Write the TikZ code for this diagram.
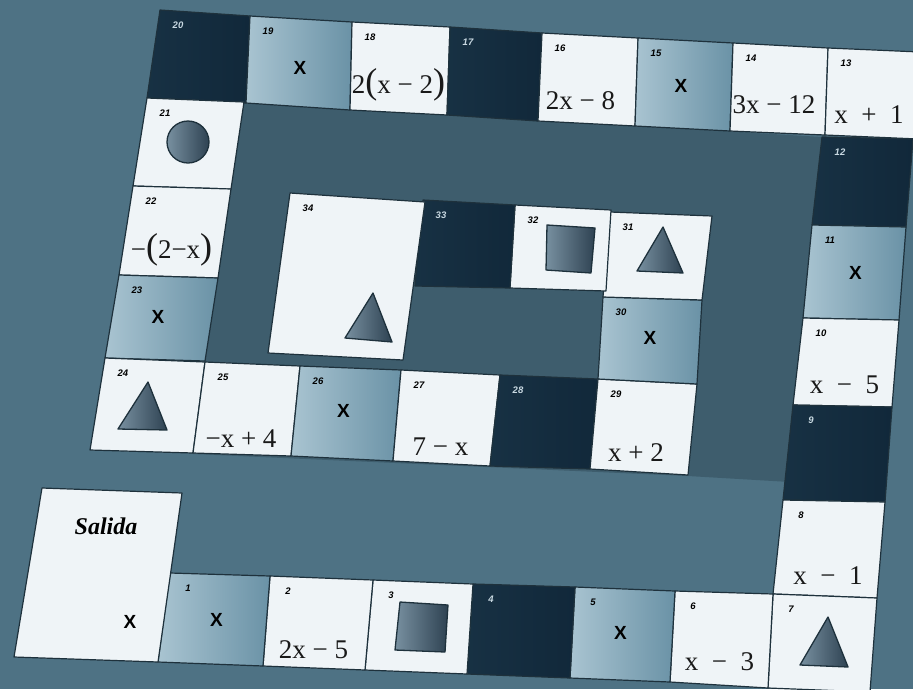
\documentclass[tikz,border=0pt]{standalone}
\usepackage{fontspec}
\setmainfont{Liberation Serif}
\setsansfont{Liberation Sans}
\usetikzlibrary{calc}
\definecolor{felt}{HTML}{4E7284}
\definecolor{plate}{HTML}{3E5D6D}
\definecolor{edge}{HTML}{1E313C}
\definecolor{paper}{HTML}{EFF4F7}
\definecolor{navy}{HTML}{11283A}
\definecolor{navymid}{HTML}{3B6479}
\definecolor{steel}{HTML}{6A92A6}
\definecolor{steellight}{HTML}{A9C4D1}
\definecolor{slate}{HTML}{2E4252}
\definecolor{slatelight}{HTML}{7890A0}
\definecolor{numlight}{HTML}{C9D9E2}

% one square of the track: style, number, corners tl tr br bl
\newcommand{\boardtile}[6]{%
  \coordinate (t#2a) at (#3);
  \coordinate (t#2b) at (#4);
  \coordinate (t#2c) at (#5);
  \coordinate (t#2d) at (#6);
  \path[tile, #1] (t#2a) -- (t#2b) -- (t#2c) -- (t#2d) -- cycle;
  \coordinate (t#2) at ($(t#2a)!0.5!(t#2c)$);
  \node[num, num #1] (n#2) at ($(t#2a)+(18,15)$) {#2};
}
\newcommand{\openp}{{\fontsize{36}{36}\selectfont(}}
\newcommand{\closep}{{\fontsize{36}{36}\selectfont)}}

\begin{document}
\begin{tikzpicture}[x=1pt, y=-1pt,
  tile/.style={draw=edge, line width=1.2pt, line join=round},
  plain/.style={fill=paper},
  tint/.style={left color=steellight, middle color=steel!70!steellight, right color=steel},
  deep/.style={left color=navy!85!navymid, middle color=navymid, right color=navy},
  num/.style={font=\fontsize{9.5}{10}\selectfont\sffamily\bfseries\itshape, inner sep=0pt},
  num plain/.style={text=black},
  num tint/.style={text=black},
  num deep/.style={text=numlight},
  expr/.style={font=\fontsize{27}{30}\selectfont, inner sep=0pt, text=black!90},
  bigx/.style={font=\fontsize{19}{20}\selectfont\sffamily\bfseries, inner sep=0pt},
  figure/.style={draw=edge, line width=1.3pt, line join=round, left color=slatelight, right color=slate}
]
  \useasboundingbox (0,0) rectangle (913,689);
  \clip (0,0) rectangle (913,689);
  \fill[felt] (0,0) rectangle (913,689);
  \fill[plate] (244,102) -- (822,137) -- (790,482) -- (688,476) -- (193,454)
    -- (205,362) -- (231,188) -- cycle;

  % top row
  \boardtile{deep}{20}{160,10}{250,16}{246,103}{147,98}
  \boardtile{tint}{19}{250,16}{352,22}{350,110}{246,103}
  \boardtile{plain}{18}{352,22}{450,27}{447,115}{350,110}
  \boardtile{deep}{17}{450,27}{542,33}{538,121}{447,115}
  \boardtile{plain}{16}{542,33}{638,38}{635,126}{538,121}
  \boardtile{tint}{15}{638,38}{733,43}{730,131}{635,126}
  \boardtile{plain}{14}{733,43}{828,48}{825,135}{730,131}
  \boardtile{plain}{13}{828,48}{920,52}{918,139}{825,135}
  % right column
  \boardtile{deep}{12}{822,137}{913,139}{906,227}{812,225}
  \boardtile{tint}{11}{812,225}{906,227}{899,320}{803,318}
  \boardtile{plain}{10}{803,318}{899,320}{892,407}{793,405}
  \boardtile{deep}{9}{793,405}{892,407}{885,502}{783,500}
  \boardtile{plain}{8}{783,500}{885,502}{877,598}{773,594}
  \boardtile{plain}{7}{773,594}{877,598}{870,692}{768,688}
  % bottom row
  \boardtile{plain}{6}{675,591}{773,594}{768,688}{670,682}
  \boardtile{tint}{5}{575,587}{675,591}{670,682}{570,678}
  \boardtile{deep}{4}{473,584}{575,587}{570,678}{467,674}
  \boardtile{plain}{3}{373,580}{473,584}{467,674}{365,670}
  \boardtile{plain}{2}{270,576}{373,580}{365,670}{263,666}
  \boardtile{tint}{1}{170,573}{270,576}{263,666}{158,662}
  \path[tile, plain] (42,488) -- (182,493) -- (158,662) -- (14,657) -- cycle;
  % left column
  \boardtile{plain}{21}{147,98}{244,102}{231,189}{133,186}
  \boardtile{plain}{22}{133,186}{231,189}{218,278}{119,275}
  \boardtile{tint}{23}{119,275}{218,278}{205,361}{105,358}
  \boardtile{plain}{24}{105,358}{205,362}{193,453}{90,450}
  % inner row
  \boardtile{plain}{25}{205,362}{300,366}{291,456}{193,453}
  \boardtile{tint}{26}{300,366}{401,370}{393,461}{291,456}
  \boardtile{plain}{27}{401,370}{500,375}{490,466}{393,461}
  \boardtile{deep}{28}{500,375}{598,379}{590,469}{490,466}
  \boardtile{plain}{29}{598,379}{697,384}{688,475}{590,469}
  \boardtile{tint}{30}{603,297}{702,300}{697,384}{598,379}
  \boardtile{plain}{31}{610,212}{712,216}{702,300}{603,297}
  \boardtile{plain}{32}{515,205}{611,210}{606,291}{510,288}
  \boardtile{deep}{33}{423,200}{515,205}{510,288}{415,286}
  \boardtile{plain}{34}{290,193}{425,202}{403,360}{268,353}

  % what stands on the squares
  \node[font=\fontsize{24}{26}\selectfont\bfseries\itshape] (salida) at (106,526) {Salida};
  \node[bigx] (e0) at (130,622) {X};
  \node[bigx] (e1) at ($(t1)+(0,0)$) {X};
  \node[expr] (e2) at ($(t2)+(-4,27)$) {2x − 5};
  \node[bigx] (e5) at ($(t5)+(-2,-2)$) {X};
  \node[expr] (e6) at ($(t6)+(-2,22)$) {x \ − \ 3};
  \node[expr] (e8) at ($(t8)+(-2,27)$) {x \ − \ 1};
  \node[expr] (e10) at ($(t10)+(-3,22)$) {x \ − \ 5};
  \node[bigx] (e11) at ($(t11)+(0,0)$) {X};
  \node[expr] (e13) at ($(t13)+(-4,21)$) {x \ + \ 1};
  \node[expr] (e14) at ($(t14)+(-5,16)$) {3x − 12};
  \node[bigx] (e15) at ($(t15)+(-3,1)$) {X};
  \node[expr] (e16) at ($(t16)+(-8,21)$) {2x − 8};
  \node[expr] (e18) at ($(t18)+(-1,16)$) {2\openp x − 2\closep};
  \node[bigx] (e19) at ($(t19)+(0,5)$) {X};
  \node[expr] (e22) at ($(t22)+(-4,18)$) {−\openp 2−x\closep};
  \node[bigx] (e23) at ($(t23)+(-4,-1)$) {X};
  \node[expr] (e25) at ($(t25)+(-7,30)$) {−x + 4};
  \node[bigx] (e26) at ($(t26)+(-3,-3)$) {X};
  \node[expr] (e27) at ($(t27)+(-5,29)$) {7 − x};
  \node[expr] (e29) at ($(t29)+(-7,26)$) {x + 2};
  \node[bigx] (e30) at ($(t30)+(0,-3)$) {X};

  % figures
  \draw[figure] (188,142) circle (21);
  \draw[figure] (400,602) -- (448,605) -- (445,652) -- (395,650) -- cycle;
  \draw[figure] (547,225) -- (595,228) -- (591,273) -- (546,270) -- cycle;
  \draw[figure] (828,617) -- (848,667) -- (800,665) -- cycle;
  \draw[figure] (148,382) -- (167,430) -- (118,429) -- cycle;
  \draw[figure] (663,227) -- (683,273) -- (637,271) -- cycle;
  \draw[figure] (373,293) -- (392,342) -- (345,338) -- cycle;
\end{tikzpicture}
\end{document}
